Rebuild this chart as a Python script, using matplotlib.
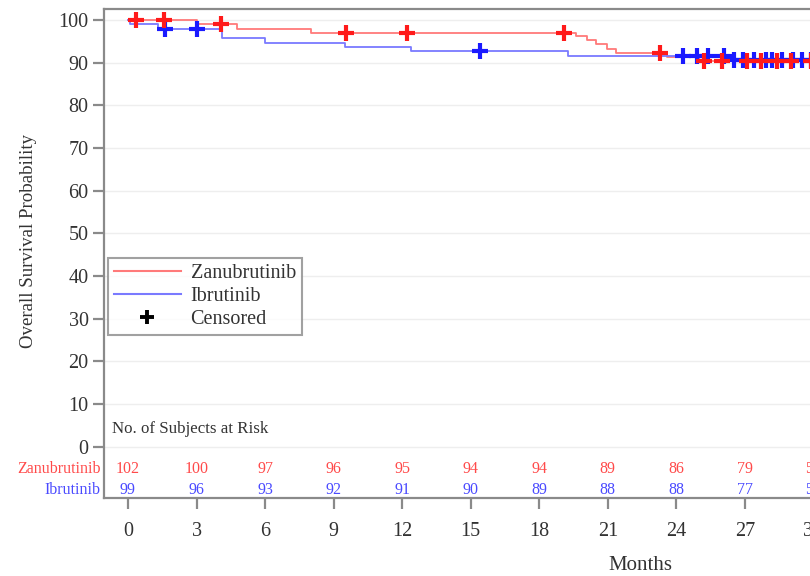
import numpy as np
import matplotlib
matplotlib.use("Agg")
import matplotlib.pyplot as plt
from matplotlib.lines import Line2D

plt.rcParams['font.family'] = ['Liberation Serif', 'DejaVu Serif']

# ---- data ----
zanu_times = [0, 3.0, 4.75, 8.0, 19.6, 20.1, 20.5, 20.95, 21.35, 23.6, 25.0, 31.6]
zanu_surv = [100, 99.0, 98.0, 97.0, 96.2, 95.3, 94.3, 93.2, 92.3, 91.3, 90.4, 90.4]
zanu_censor_t = [0.35, 1.58, 4.07, 9.53, 12.2, 19.1, 23.3, 25.2, 26.0, 27.1, 27.7,
                 28.4, 29.0, 29.9, 30.4]

ibru_times = [0, 0.1, 1.33, 4.1, 6.0, 9.5, 12.4, 19.25, 26.2, 31.6]
ibru_surv = [100, 99.0, 97.9, 95.8, 94.7, 93.7, 92.7, 91.6, 90.7, 90.7]
ibru_censor_t = [1.6, 3.0, 15.4, 24.3, 24.9, 25.4, 26.1, 26.5, 26.9, 27.4, 27.9,
                 28.2, 28.6, 29.1, 29.5, 29.9, 30.3, 30.6]

risk_months = [0, 3, 6, 9, 12, 15, 18, 21, 24, 27, 30]
zanu_risk = [102, 100, 97, 96, 95, 94, 94, 89, 86, 79, 59]
ibru_risk = [99, 96, 93, 92, 91, 90, 89, 88, 88, 77, 57]

x_ticks = [0, 3, 6, 9, 12, 15, 18, 21, 24, 27, 30, 33]
y_ticks = [0, 10, 20, 30, 40, 50, 60, 70, 80, 90, 100]

# ---- colours ----
red_line = '#ff7a7a'
blue_line = '#7a7aff'
red_mark = '#ff1a1a'
blue_mark = '#1a1aff'
red_txt = '#ff4a4a'
blue_txt = '#4a4aff'
gray = '#8a8a8a'
txt = '#333333'

W, H = 810, 576
fig = plt.figure(figsize=(W / 100, H / 100), dpi=100)

# axes placement (extends past the right edge like the reference crop)
xmin, xmax = -1.05, 33.0
px_per_month = 22.85
left_px = 104
ax_w_px = (xmax - xmin) * px_per_month
bottom_px, top_px = 498.3, 9.3
ax = fig.add_axes([left_px / W, (H - bottom_px) / H, ax_w_px / W, (bottom_px - top_px) / H])
ax.set_xlim(xmin, xmax)
ax.set_ylim(-12.1, 102.5)


def step_val(times, surv, t):
    idx = np.searchsorted(times, t, side='right') - 1
    return np.asarray(surv)[idx]


ax.step(zanu_times, zanu_surv, where='post', color=red_line, lw=1.3, zorder=3)
ax.step(ibru_times, ibru_surv, where='post', color=blue_line, lw=1.3, zorder=3)

ax.plot(ibru_censor_t, step_val(ibru_times, ibru_surv, np.array(ibru_censor_t)),
        ls='none', marker='+', ms=12, mew=3.0, color=blue_mark, zorder=4)
ax.plot(zanu_censor_t, step_val(zanu_times, zanu_surv, np.array(zanu_censor_t)),
        ls='none', marker='+', ms=12, mew=3.0, color=red_mark, zorder=5)

# grid
for yv in y_ticks:
    ax.axhline(yv, color='#eeeeee', lw=1.0, zorder=1)

# spines / ticks
for s in ['left', 'bottom', 'top', 'right']:
    ax.spines[s].set_color(gray)
    ax.spines[s].set_linewidth(1.6)
ax.set_xticks(x_ticks)
ax.set_yticks(y_ticks)
ax.tick_params(axis='both', colors=gray, length=8, width=1.6, labelsize=14.5,
               labelcolor=txt, direction='out')
ax.tick_params(axis='y', pad=3)
ax.tick_params(axis='x', pad=9)

ax.set_ylabel('Overall Survival Probability', fontsize=13.6, color=txt)
ax.yaxis.set_label_coords((37 - left_px) / ax_w_px, (bottom_px - 241) / (bottom_px - top_px))
fig.text(640 / W, 1 - 565 / H, 'Months', fontsize=15, color=txt,
         ha='center', va='center')

# risk table
ax.text(-0.72, 4.2, 'No. of Subjects at Risk', fontsize=12.2, color=txt,
        ha='left', va='center')
for m, zr, ir in zip(risk_months, zanu_risk, ibru_risk):
    ax.text(m, -5.3, str(zr), fontsize=11.5, color=red_txt, ha='center', va='center')
    ax.text(m, -10.15, str(ir), fontsize=11.5, color=blue_txt, ha='center', va='center')
ax.text(-1.2, -5.3, 'Zanubrutinib', fontsize=11.5, color=red_txt, ha='right', va='center')
ax.text(-1.2, -10.15, 'Ibrutinib', fontsize=11.5, color=blue_txt, ha='right', va='center')

# legend
handles = [Line2D([], [], color=red_line, lw=1.5),
           Line2D([], [], color=blue_line, lw=1.5),
           Line2D([], [], ls='none', marker='+', ms=10, mew=2.8, color='black')]
leg = fig.legend(handles, ['Zanubrutinib', 'Ibrutinib', 'Censored'],
                 loc='upper left', bbox_to_anchor=(108 / W, 1 - 258 / H),
                 fontsize=14.5, frameon=True, fancybox=False, edgecolor=gray,
                 handlelength=3.3, handletextpad=0.5, labelspacing=0.2,
                 borderpad=0.3, borderaxespad=0)
leg.get_frame().set_linewidth(1.5)
for t in leg.get_texts():
    t.set_color(txt)

fig.savefig('out.png', dpi=100)
